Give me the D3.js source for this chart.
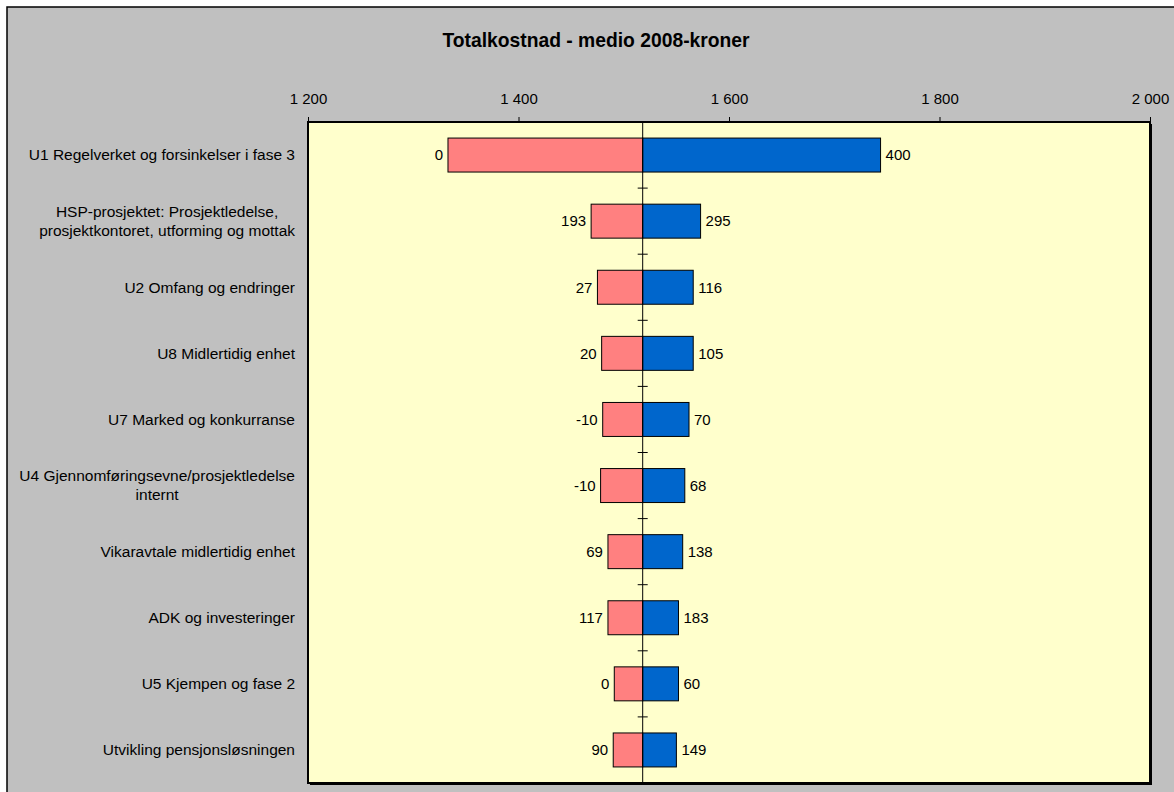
<!DOCTYPE html>
<html>
<head>
<meta charset="utf-8">
<script src="https://cdn.jsdelivr.net/npm/d3@7"></script>
<style>
  body { margin: 0; background: #fff; }
  text { font-family: "Liberation Sans", Arial, sans-serif; fill: #000; }
</style>
</head>
<body>
<svg id="chart" width="1174" height="792"></svg>
<script>
// categories, top to bottom (multi-line labels split by "\n")
var categories = [
    "U1 Regelverket og forsinkelser i fase 3",
    "HSP-prosjektet: Prosjektledelse,\nprosjektkontoret, utforming og mottak",
    "U2 Omfang og endringer",
    "U8 Midlertidig enhet",
    "U7 Marked og konkurranse",
    "U4 Gjennomføringsevne/prosjektledelse\ninternt",
    "Vikaravtale midlertidig enhet",
    "ADK og investeringer",
    "U5 Kjempen og fase 2",
    "Utvikling pensjonsløsningen"
];
// total cost at low / high setting of each factor
var lowValues  = [1333, 1469, 1475, 1479, 1480, 1478, 1485, 1485, 1491, 1490];
var highValues = [1744, 1573, 1566, 1566, 1562, 1558, 1556, 1552, 1552, 1550];
// input value labels printed beside the bars
var lowLabels  = ["0", "193", "27", "20", "-10", "-10", "69", "117", "0", "90"];
var highLabels = ["400", "295", "116", "105", "70", "68", "138", "183", "60", "149"];
var baseValue = 1518;
var tickValues = [1200, 1400, 1600, 1800, 2000];

var svg = d3.select("#chart");

var plot = { left: 308, right: 1150, top: 122, bottom: 783 };

// outer chart area
svg.append("rect")
    .attr("x", 7).attr("y", 7)
    .attr("width", 1200).attr("height", 820)
    .attr("fill", "#c0c0c0")
    .attr("stroke", "#000")
    .attr("stroke-width", 1.5);

svg.append("text")
    .attr("x", 596).attr("y", 47)
    .attr("text-anchor", "middle")
    .style("font-size", "19.3px")
    .style("font-weight", "bold")
    .text("Totalkostnad - medio 2008-kroner");

var x = d3.scaleLinear()
    .domain([1200, 2000])
    .range([plot.left, plot.right]);

var y = d3.scaleBand()
    .domain(d3.range(categories.length))
    .range([plot.top, plot.bottom])
    .paddingInner(0.486)
    .paddingOuter(0.243);

// plot area with shadow
svg.append("rect")
    .attr("x", plot.left + 2).attr("y", plot.top + 2)
    .attr("width", plot.right - plot.left).attr("height", plot.bottom - plot.top)
    .attr("fill", "#000");
svg.append("rect")
    .attr("x", plot.left).attr("y", plot.top)
    .attr("width", plot.right - plot.left).attr("height", plot.bottom - plot.top)
    .attr("fill", "#ffffcc")
    .attr("stroke", "#000")
    .attr("stroke-width", 2);

// top axis
var xAxis = d3.axisTop(x)
    .tickValues(tickValues)
    .tickSize(5)
    .tickPadding(13)
    .tickFormat(function(d) { return d3.format(",")(d).replace(",", " "); });

var gx = svg.append("g")
    .attr("transform", "translate(0," + plot.top + ")")
    .call(xAxis);
gx.select(".domain").remove();
gx.selectAll(".tick line").attr("stroke", "#000");
gx.selectAll(".tick text")
    .style("font-size", "15px")
    .style("font-family", "'Liberation Sans', Arial, sans-serif");

var idx = d3.range(categories.length);

// bars
svg.append("g").selectAll("rect")
    .data(idx)
    .enter().append("rect")
    .attr("x", function(i) { return x(lowValues[i]); })
    .attr("y", function(i) { return y(i); })
    .attr("width", function(i) { return x(baseValue) - x(lowValues[i]); })
    .attr("height", y.bandwidth())
    .attr("fill", "#ff8080")
    .attr("stroke", "#000")
    .attr("stroke-width", 1);

svg.append("g").selectAll("rect")
    .data(idx)
    .enter().append("rect")
    .attr("x", x(baseValue))
    .attr("y", function(i) { return y(i); })
    .attr("width", function(i) { return x(highValues[i]) - x(baseValue); })
    .attr("height", y.bandwidth())
    .attr("fill", "#0066cc")
    .attr("stroke", "#000")
    .attr("stroke-width", 1);

// center axis with ticks between categories
svg.append("line")
    .attr("x1", x(baseValue)).attr("x2", x(baseValue))
    .attr("y1", plot.top).attr("y2", plot.bottom)
    .attr("stroke", "#000")
    .attr("stroke-width", 1);

svg.append("g").selectAll("line")
    .data(idx.slice(1))
    .enter().append("line")
    .attr("x1", x(baseValue) - 5).attr("x2", x(baseValue) + 5)
    .attr("y1", function(i) { return y(i) - y.step() * y.paddingInner() / 2; })
    .attr("y2", function(i) { return y(i) - y.step() * y.paddingInner() / 2; })
    .attr("stroke", "#000");

// value labels
svg.append("g").selectAll("text")
    .data(idx)
    .enter().append("text")
    .attr("x", function(i) { return x(lowValues[i]) - 5; })
    .attr("y", function(i) { return y(i) + y.bandwidth() / 2; })
    .attr("dy", "0.35em")
    .attr("text-anchor", "end")
    .style("font-size", "15px")
    .text(function(i) { return lowLabels[i]; });

svg.append("g").selectAll("text")
    .data(idx)
    .enter().append("text")
    .attr("x", function(i) { return x(highValues[i]) + 5; })
    .attr("y", function(i) { return y(i) + y.bandwidth() / 2; })
    .attr("dy", "0.35em")
    .style("font-size", "15px")
    .text(function(i) { return highLabels[i]; });

// category labels (multi-line ones are centred as a block, right-aligned)
var labelRight = 295;
idx.forEach(function(i) {
    var lines = categories[i].split("\n");
    var cy = y(i) + y.bandwidth() / 2;
    var lineH = 19;
    var g = svg.append("g");
    var texts = lines.map(function(line, k) {
        return g.append("text")
            .attr("y", cy + (k - (lines.length - 1) / 2) * lineH)
            .attr("dy", "0.35em")
            .style("font-size", "15.5px")
            .text(line);
    });
    var maxW = d3.max(texts, function(t) { return t.node().getComputedTextLength(); });
    texts.forEach(function(t) {
        t.attr("text-anchor", "middle").attr("x", labelRight - maxW / 2);
    });
});
</script>
</body>
</html>
